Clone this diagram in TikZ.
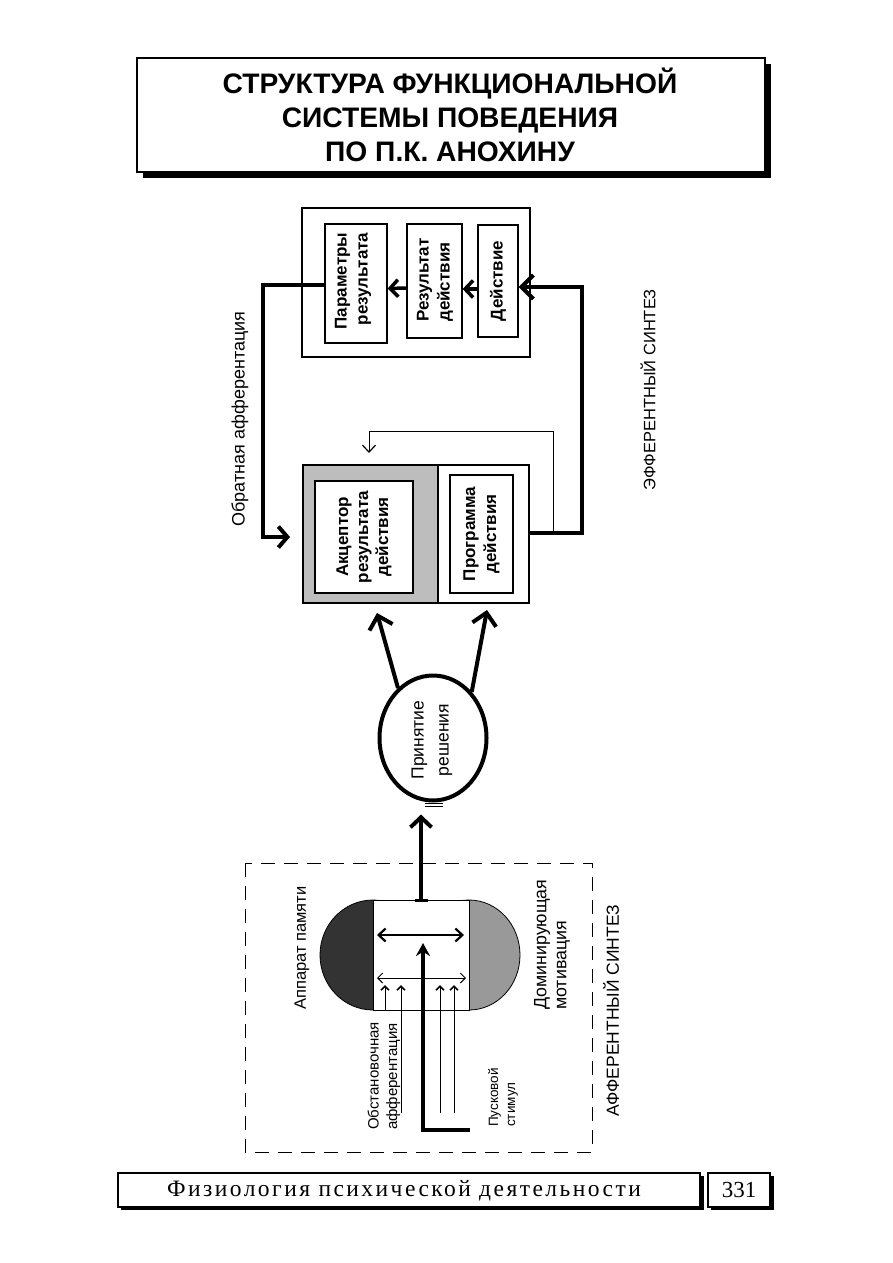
\documentclass[tikz,border=0pt]{standalone}
\usepackage{fontspec}
\setmainfont{Liberation Sans}
\newfontfamily\footfont[LetterSpace=10.5]{Liberation Serif}
\newfontfamily\numfont{Liberation Serif}
\usetikzlibrary{arrows.meta,shapes.geometric,calc}
\definecolor{accgray}{gray}{0.74}
\definecolor{memgray}{gray}{0.2}
\definecolor{motgray}{gray}{0.6}
\begin{document}
\begin{tikzpicture}[x=1pt,y=-1pt,
  boxa/.style={draw, line width=1.3pt, inner sep=0pt},
  vtext/.style={rotate=90, align=center, font=\fontsize{17}{21}\selectfont\bfseries},
  vlab/.style={rotate=90, align=left, inner sep=0pt, font=\fontsize{15}{19}\selectfont},
  heavy/.style={line width=4pt},
  bigtip/.style={-{Straight Barb[length=12pt,width=24pt]}},
  midtip/.style={-{Straight Barb[length=8pt,width=17pt]}},
  thinarr/.style={line width=0.8pt, -{Straight Barb[length=4pt,width=8pt,line width=1.6pt]}}
]
\useasboundingbox (0,0) rectangle (893,1263);
\fill[white] (0,0) rectangle (893,1263);

% ---- title ----
\fill[black] (143,64) rectangle (771,178);
\node[draw, fill=white, line width=1.5pt, minimum width=628, minimum height=114, inner sep=0pt] (title) at (451,115) {};
\node[align=center, font=\fontsize{28.2}{34}\selectfont\bfseries] (titletext) at (450,115) {СТРУКТУРА ФУНКЦИОНАЛЬНОЙ\\СИСТЕМЫ ПОВЕДЕНИЯ\\ПО П.К. АНОХИНУ};

% ---- top block ----
\node[boxa, line width=1.2pt, minimum width=228, minimum height=149] (top) at (416,282.5) {};
\node[boxa, minimum width=62, minimum height=119] (par) at (356,283.5) {};
\node[boxa, minimum width=55, minimum height=114] (res) at (434.5,281) {};
\node[boxa, minimum width=40, minimum height=112] (act) at (498,281) {};
\node[vtext, align=right] (partext) at (353,281) {Параметры\\результата};
\node[vtext, align=left] (restext) at (435,280) {Результат\\действия};
\node[vtext] (acttext) at (act) {Действие};
\draw[line width=3.5pt, midtip] ($(res.west)+(0,7)$) -- ($(par.east)+(0,5)$);
\draw[line width=3.5pt, midtip] ($(act.west)+(0,8)$) -- ($(res.east)+(0,8)$);

% ---- middle block ----
\node[boxa, fill=accgray, minimum width=135, minimum height=138] (accouter) at (370.5,534) {};
\node[boxa, minimum width=91, minimum height=138] (progouter) at (483.5,534) {};
\node[boxa, fill=white, minimum width=98, minimum height=112] (acc) at (364,537) {};
\node[boxa, minimum width=63, minimum height=118] (prog) at (481.5,534) {};
\node[vtext, font=\fontsize{17}{20}\selectfont\bfseries] (acctext) at (acc) {Акцептор\\результата\\действия};
\node[vtext] (progtext) at (prog) {Программа\\действия};

% efferent thick loop
\coordinate (er1) at (582,533);
\coordinate (er2) at (582,287);
\draw[heavy, bigtip] (progouter.east |- er1) -- (er1) -- (er2) -- (act.east |- er2);
% thin feedback to acceptor
\coordinate (tf1) at (553,533);
\coordinate (tf2) at (553,431);
\coordinate (tf3) at (369,431);
\draw[line width=0.9pt, -{Straight Barb[length=7pt,width=13pt,line width=1.2pt]}] (tf1) -- (tf2) -- (tf3) -- (369,453);
% reverse afferentation
\coordinate (la1) at (263,285);
\coordinate (la2) at (263,537);
\draw[heavy, -{Straight Barb[length=9pt,width=21pt]}] (par.west |- la1) -- (la1) -- (la2) -- (290,537);

\node[rotate=90, font=\fontsize{18}{22}\selectfont] (obr) at (240,419) {Обратная афферентация};
\node[rotate=90, font=\fontsize{16.5}{20}\selectfont] (eff) at (648,390) {ЭФФЕРЕНТНЫЙ СИНТЕЗ};

% ---- decision ----
\node[ellipse, draw, line width=4pt, minimum width=107, minimum height=125, inner sep=0pt] (dec) at (433,738) {};
\node[rotate=90, align=center, font=\fontsize{17.5}{25}\selectfont] (dectext) at (432,740) {Принятие\\решения};
\draw[heavy, bigtip] (dec.125) -- (377,613);
\draw[heavy, bigtip] (dec.50) -- (487,610);
\draw[line width=0.8pt] (425,803) -- (443,803) (425,806.5) -- (443,806.5);

% ---- afferent synthesis ----
\draw[line width=1pt, dash pattern=on 14pt off 9pt] (245,863) rectangle (592,1152);
\fill[memgray, draw=black, line width=0.8pt] (373,955) ellipse [x radius=53, y radius=55];
\fill[motgray, draw=black, line width=0.8pt] (469,955) ellipse [x radius=51, y radius=55];
\node[draw, fill=white, line width=1pt, minimum width=96, minimum height=110, inner sep=0pt] (core) at (421,955) {};
\draw[heavy, -{Straight Barb[length=10pt,width=21pt]}] (core.north) -- ($(dec.south)+(-12,12)$);
\draw[line width=3pt] (415,900) -- (428,900);
\draw[line width=2.2pt, {Straight Barb[length=7pt,width=13pt]}-{Straight Barb[length=7pt,width=13pt]}] (377,935) -- (464,935);
\draw[line width=1pt, {Straight Barb[length=5pt,width=10pt]}-{Straight Barb[length=5pt,width=10pt]}] (377,978) -- (466,978);
\coordinate (pk1) at (470,1130);
\coordinate (pk2) at (423,1130);
\draw[heavy, -{Stealth[length=13pt,width=14pt]}] (pk1) -- (pk2) -- (423,943);
\draw[thinarr] (core.south -| 385,0) -- (385,985);
\draw[thinarr] (401,1113) -- (401,985);
\draw[thinarr] (440,1113) -- (440,985);
\draw[thinarr] (454,1113) -- (454,985);

\node[vlab, anchor=west, font=\fontsize{16.5}{20}\selectfont] (mem) at (302,1010) {Аппарат памяти};
\node[vlab, anchor=west, font=\fontsize{15}{18.5}\selectfont] (obst) at (384,1130) {Обстановочная\\афферентация};
\node[vlab, anchor=west, font=\fontsize{13.5}{17}\selectfont] (pusk) at (503,1127) {Пусковой\\стимул};
\node[vlab, anchor=west, font=\fontsize{17.8}{20}\selectfont] (mot) at (552,1010) {Доминирующая\\мотивация};
\node[rotate=90, anchor=west, inner sep=0pt, font=\fontsize{17.5}{20}\selectfont] (aff) at (611,1117) {АФФЕРЕНТНЫЙ СИНТЕЗ};

% ---- footer ----
\draw[line width=3.5pt] (121,1208) -- (702,1208) -- (702,1176);
\draw[line width=3.5pt] (711,1208) -- (772,1208) -- (772,1176);
\node[draw, fill=white, line width=1.3pt, minimum width=582, minimum height=34, inner sep=0pt] (foot) at (409,1190) {};
\node[draw, fill=white, line width=1.3pt, minimum width=62, minimum height=34, inner sep=0pt] (page) at (739,1190) {};
\node[font=\fontsize{23.5}{26}\selectfont\footfont] (foottext) at (404,1191) {Физиология психической деятельности};
\node[font=\fontsize{23}{26}\selectfont\numfont] (pagetext) at (page) {331};
\end{tikzpicture}
\end{document}
